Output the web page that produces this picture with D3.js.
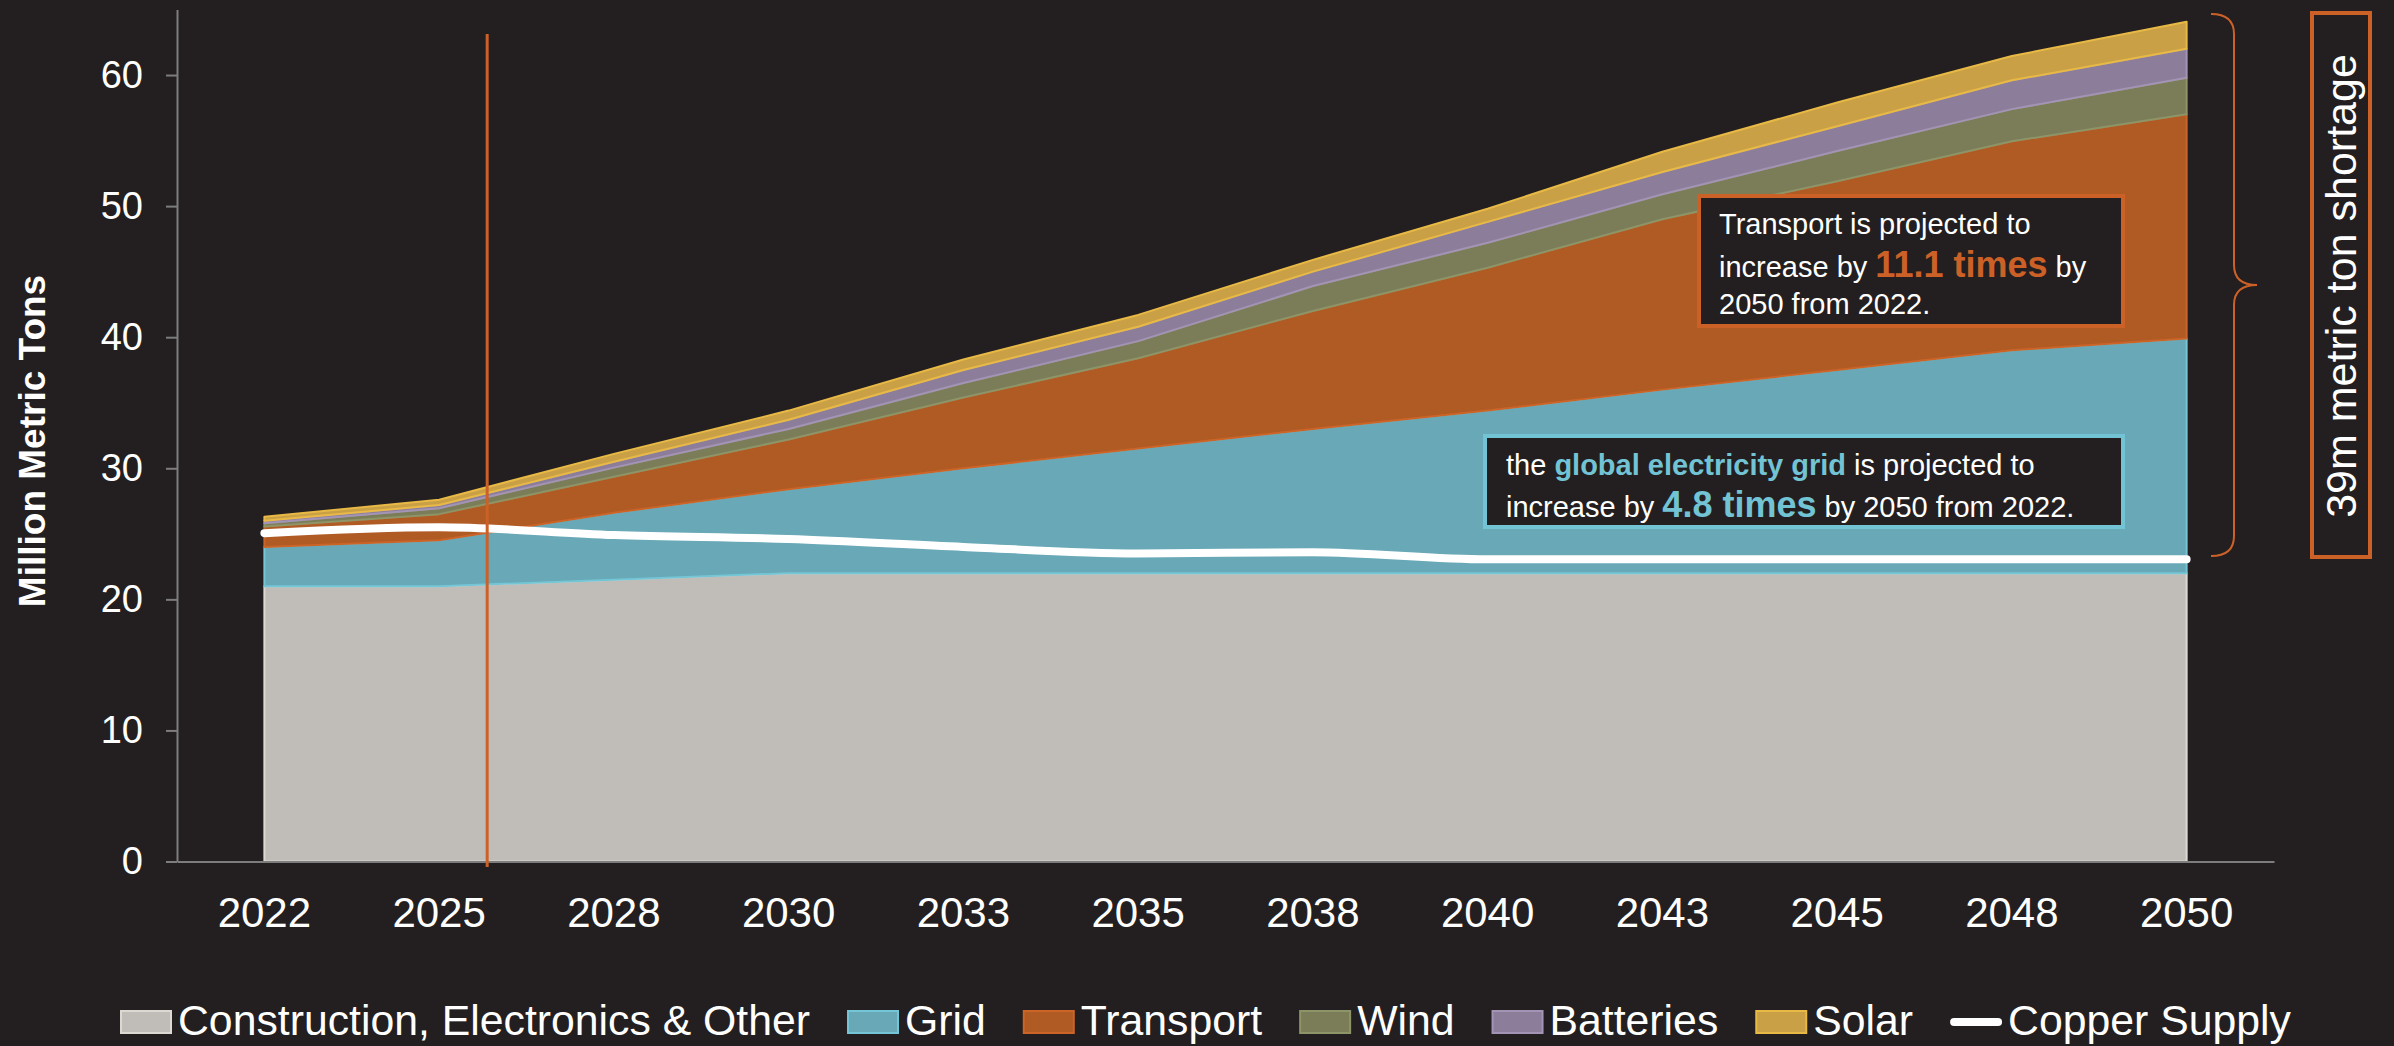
<!DOCTYPE html>
<html>
<head>
<meta charset="utf-8">
<script src="https://cdn.jsdelivr.net/npm/d3@7"></script>
<style>
  html, body { margin: 0; padding: 0; background: #231f20; }
  svg { display: block; }
  text { font-family: "Liberation Sans", Arial, sans-serif; }
</style>
</head>
<body>
<svg id="chart" width="2394" height="1046"></svg>
<script>
// ---------- data ----------
const years = ["2022","2025","2028","2030","2033","2035","2038","2040","2043","2045","2048","2050"];
const construction = [21.0, 21.0, 21.5, 22.0, 22.0, 22.0, 22.0, 22.0, 22.0, 22.0, 22.0, 22.0];
const grid         = [3.0, 3.5, 5.1, 6.4, 8.0, 9.5, 11.0, 12.4, 14.0, 15.5, 17.0, 17.9];
const transport    = [1.55, 2.0, 2.75, 3.8, 5.4, 6.9, 9.0, 10.9, 13.0, 14.4, 15.95, 17.1];
const wind         = [0.25, 0.45, 0.7, 0.8, 1.1, 1.3, 1.9, 1.9, 1.9, 2.3, 2.45, 2.8];
const batteries    = [0.2, 0.25, 0.45, 0.7, 1.0, 1.1, 1.1, 1.6, 1.7, 1.9, 2.2, 2.2];
const solar        = [0.3, 0.4, 0.6, 0.7, 0.8, 0.9, 0.9, 1.0, 1.55, 1.8, 1.85, 2.07];
const copperSupply = [25.05, 25.5, 24.9, 24.6, 24.0, 23.5, 23.6, 23.05, 23.05, 23.05, 23.05, 23.05];
const yTicks = [0, 10, 20, 30, 40, 50, 60];

const seriesKeys = ["construction","grid","transport","wind","batteries","solar"];
const seriesNames = {
  construction: "Construction, Electronics & Other",
  grid: "Grid", transport: "Transport", wind: "Wind",
  batteries: "Batteries", solar: "Solar"
};
const fills = {
  construction: "#c0bdb8", grid: "#68a8b7", transport: "#b05a24",
  wind: "#7b7d58", batteries: "#8c7e9a", solar: "#c9a046"
};
const strokes = {
  construction: "#dcd9d3", grid: "#74c6d6", transport: "#cc6428",
  wind: "#8c9468", batteries: "#a393b5", solar: "#e8b945"
};
const ORANGE = "#cc6128";
const TEAL = "#72c3d4";

const table = years.map((y, i) => ({
  year: y, construction: construction[i], grid: grid[i], transport: transport[i],
  wind: wind[i], batteries: batteries[i], solar: solar[i], supply: copperSupply[i]
}));

// ---------- scales ----------
const svg = d3.select("#chart");
const xBand = d3.scaleBand().domain(years).range([177, 2274]).padding(0);
const xc = d => xBand(d) + xBand.bandwidth() / 2;
const y = d3.scaleLinear().domain([0, 65]).range([861.5, 9.5]);

// ---------- axes ----------
const axisColor = "#7d7d7d";
const yAxis = svg.append("g").attr("transform", "translate(177,0)")
  .call(d3.axisLeft(y).tickValues(yTicks).tickSize(11).tickSizeOuter(0).tickPadding(23));
yAxis.select(".domain").attr("stroke", axisColor).attr("stroke-width", 2);
yAxis.selectAll(".tick line").attr("stroke", axisColor).attr("stroke-width", 2);
yAxis.selectAll(".tick text").attr("fill", "#ffffff").attr("font-size", 38)
  .style("font-family", '"Liberation Sans", Arial, sans-serif');

// ---------- stacked areas ----------
const stacked = d3.stack().keys(seriesKeys)(table);
const area = d3.area()
  .x(d => xc(d.data.year))
  .y0(d => y(d[0]))
  .y1(d => y(d[1]))
  .curve(d3.curveLinear);

svg.append("g").selectAll("path").data(stacked).join("path")
  .attr("d", area)
  .attr("fill", d => fills[d.key])
  .attr("stroke", d => strokes[d.key])
  .attr("stroke-width", 2)
  .attr("stroke-linejoin", "round");

const xAxis = svg.append("g").attr("transform", `translate(0,${y(0)})`)
  .call(d3.axisBottom(xBand).tickSize(0).tickPadding(36));
xAxis.select(".domain").attr("stroke", axisColor).attr("stroke-width", 2);
xAxis.selectAll(".tick text").attr("fill", "#ffffff").attr("font-size", 42)
  .style("font-family", '"Liberation Sans", Arial, sans-serif');

// ---------- copper supply line ----------
const line = d3.line().x(d => xc(d.year)).y(d => y(d.supply)).curve(d3.curveMonotoneX);
svg.append("path").datum(table)
  .attr("d", line).attr("fill", "none").attr("stroke", "#ffffff")
  .attr("stroke-width", 8).attr("stroke-linecap", "round");

// ---------- vertical marker between 2025 and 2028 ----------
const markerX = xc("2025") + 0.275 * xBand.step();
svg.append("line")
  .attr("x1", markerX).attr("x2", markerX)
  .attr("y1", 34).attr("y2", 867)
  .attr("stroke", ORANGE).attr("stroke-width", 3);

// ---------- y axis title ----------
svg.append("text")
  .attr("transform", "translate(45,441) rotate(-90)")
  .attr("text-anchor", "middle")
  .attr("fill", "#ffffff").attr("font-size", 37).attr("font-weight", "bold")
  .text("Million Metric Tons");

// ---------- annotation: transport ----------
const tBox = svg.append("g");
tBox.append("rect").attr("x", 1699).attr("y", 196).attr("width", 424).attr("height", 130)
  .attr("fill", "#231f20").attr("stroke", ORANGE).attr("stroke-width", 4);
const tText = tBox.append("text").attr("fill", "#ffffff").attr("font-size", 29);
tText.append("tspan").attr("x", 1719).attr("y", 233.5).text("Transport is projected to");
const tl2 = tText.append("tspan").attr("x", 1719).attr("y", 276.5);
tl2.append("tspan").text("increase by ");
tl2.append("tspan").attr("font-weight", "bold").attr("font-size", 36).attr("fill", ORANGE).text("11.1 times");
tl2.append("tspan").text(" by");
tText.append("tspan").attr("x", 1719).attr("y", 313.5).text("2050 from 2022.");

// ---------- annotation: grid ----------
const gBox = svg.append("g");
gBox.append("rect").attr("x", 1485).attr("y", 436).attr("width", 638).attr("height", 91)
  .attr("fill", "#231f20").attr("stroke", TEAL).attr("stroke-width", 4);
const gText = gBox.append("text").attr("fill", "#ffffff").attr("font-size", 29);
const gl1 = gText.append("tspan").attr("x", 1506).attr("y", 475);
gl1.append("tspan").text("the ");
gl1.append("tspan").attr("font-weight", "bold").attr("font-size", 29).attr("fill", TEAL).text("global electricity grid");
gl1.append("tspan").text(" is projected to");
const gl2 = gText.append("tspan").attr("x", 1506).attr("y", 517);
gl2.append("tspan").text("increase by ");
gl2.append("tspan").attr("font-weight", "bold").attr("font-size", 36).attr("fill", TEAL).text("4.8 times");
gl2.append("tspan").text(" by 2050 from 2022.");

// ---------- brace ----------
svg.append("path")
  .attr("d", "M2211,14 Q2234,14 2234,34 L2234,265 Q2234,285 2257,285 Q2234,285 2234,305 L2234,536 Q2234,556 2211,556")
  .attr("fill", "none").attr("stroke", ORANGE).attr("stroke-width", 2);

// ---------- shortage box ----------
svg.append("rect").attr("x", 2312).attr("y", 13).attr("width", 58).attr("height", 544)
  .attr("fill", "none").attr("stroke", ORANGE).attr("stroke-width", 4);
svg.append("text")
  .attr("transform", "translate(2356,286) rotate(-90)")
  .attr("text-anchor", "middle")
  .attr("fill", "#ffffff").attr("font-size", 43)
  .text("39m metric ton shortage");

// ---------- legend ----------
const legendItems = seriesKeys.map(k => ({ key: k, name: seriesNames[k], type: "area" }))
  .concat([{ key: "supply", name: "Copper Supply", type: "line" }]);
const legend = svg.append("g");
let lx = 120;
legendItems.forEach(it => {
  const g = legend.append("g");
  if (it.type === "area") {
    g.append("rect").attr("x", lx + 1).attr("y", 1011).attr("width", 50).attr("height", 22)
      .attr("fill", fills[it.key]).attr("stroke", strokes[it.key]).attr("stroke-width", 2);
  } else {
    g.append("line").attr("x1", lx + 4).attr("x2", lx + 48).attr("y1", 1022).attr("y2", 1022)
      .attr("stroke", "#ffffff").attr("stroke-width", 8).attr("stroke-linecap", "round");
  }
  const t = g.append("text").attr("x", lx + 58).attr("y", 1035)
    .attr("fill", "#ffffff").attr("font-size", 42.75).text(it.name);
  lx += 58 + t.node().getComputedTextLength() + 37;
});
</script>
</body>
</html>
